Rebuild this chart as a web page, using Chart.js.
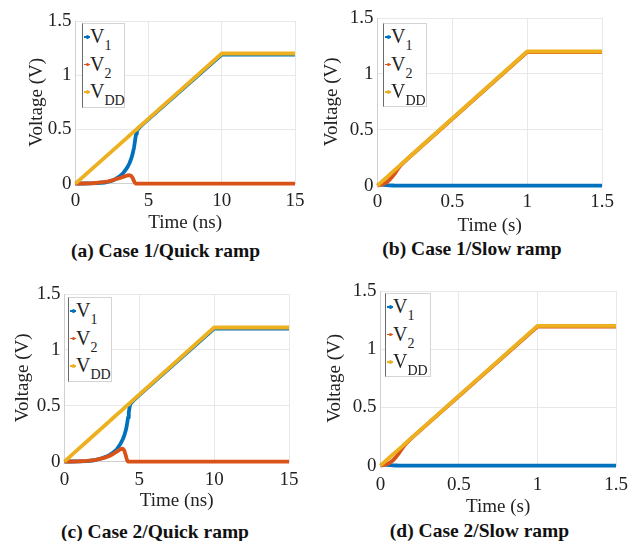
<!DOCTYPE html>
<html lang="en">
<head>
    <meta charset="UTF-8">
    <title>Voltage ramp cases</title>
    <style>
        body {
            margin: 0;
            background: #ffffff;
            font-family: "Liberation Serif", "Times New Roman", Times, "DejaVu Serif", serif;
        }
        .page {
            position: relative;
            width: 637px;
            height: 541px;
            overflow: hidden;
        }
        .page canvas {
            position: absolute;
        }
        .caption {
            position: absolute;
            width: 300px;
            margin-left: -150px;
            text-align: center;
            font-weight: bold;
            font-size: 19.5px;
            line-height: 20px;
            color: #111;
            white-space: nowrap;
        }
        .legend {
            position: absolute;
            background: #fff;
            border: 1px solid #d4d4d4;
            border-left: 1px solid #6a6a6a;
            box-sizing: border-box;
        }
        .legend .row {
            position: absolute;
            left: 7px;
            font-size: 20px;
            line-height: 20px;
            color: #222;
            white-space: nowrap;
        }
        .legend .row sub {
            font-size: 14px;
            vertical-align: -7px;
            line-height: 0;
        }
        .legend .mk {
            position: absolute;
            left: -6px;
            top: 10px;
            width: 6px;
            height: 1.5px;
        }
        .legend .mk::after {
            content: '';
            position: absolute;
            left: 1.5px;
            top: -1px;
            width: 3.5px;
            height: 3.5px;
            border-radius: 50%;
            background: inherit;
        }
    </style>
</head>
<body>
    <div class="page" id="page"></div>

    <script src="https://cdn.jsdelivr.net/npm/chart.js"></script>
    <script>
        // series names (subscripts) and MATLAB default colours
        const seriesSubs = ['1', '2', 'DD'];
        const seriesColors = ['#0072BD', '#D95319', '#EDB120'];
        const yTicks = [0, 0.5, 1, 1.5];

        // (a) Case 1 / Quick ramp, time in ns
        const timeA = [0, 0.5, 1, 1.5, 2, 2.25, 2.5, 2.75, 3, 3.25, 3.5, 3.6, 3.7, 3.8, 3.9, 4.0, 4.05, 4.1, 4.15, 4.2, 4.3, 4.5, 5, 10, 15];
        const v1A = [0, 0.001, 0.002, 0.005, 0.01, 0.017, 0.027, 0.043, 0.065, 0.095, 0.14, 0.162, 0.19, 0.225, 0.27, 0.33, 0.375, 0.42, 0.46, 0.485, 0.508, 0.535, 0.595, 1.19, 1.19];
        const v2A = [0, 0.001, 0.003, 0.008, 0.015, 0.021, 0.03, 0.04, 0.05, 0.062, 0.073, 0.076, 0.077, 0.072, 0.055, 0.025, 0.01, 0.002, 0, 0, 0, 0, 0, 0, 0];
        const vddA = [0, 0.06, 0.12, 0.18, 0.24, 0.27, 0.3, 0.33, 0.36, 0.39, 0.42, 0.432, 0.444, 0.456, 0.468, 0.48, 0.486, 0.492, 0.498, 0.504, 0.516, 0.54, 0.6, 1.2, 1.2];

        // (b) Case 1 / Slow ramp, time in s
        const timeB = [0, 0.01, 0.02, 0.03, 0.04, 0.06, 0.08, 0.1, 0.12, 0.14, 0.16, 0.2, 1, 1.5];
        const v1B = [0, 0.008, 0.01, 0.009, 0.007, 0.004, 0.002, 0.001, 0, 0, 0, 0, 0, 0];
        const v2B = [0, 0.003, 0.006, 0.01, 0.015, 0.028, 0.05, 0.08, 0.115, 0.155, 0.188, 0.238, 1.195, 1.195];
        const vddB = [0, 0.012, 0.024, 0.036, 0.048, 0.072, 0.096, 0.12, 0.144, 0.168, 0.192, 0.24, 1.2, 1.2];

        // (c) Case 2 / Quick ramp, time in ns
        const timeC = [0, 0.5, 1, 1.5, 2, 2.5, 2.75, 3, 3.25, 3.5, 3.75, 3.9, 4.0, 4.1, 4.15, 4.2, 4.25, 4.3, 4.35, 4.4, 4.6, 5, 10, 15];
        const v1C = [0, 0.001, 0.002, 0.005, 0.012, 0.03, 0.042, 0.058, 0.08, 0.11, 0.16, 0.2, 0.235, 0.28, 0.31, 0.35, 0.395, 0.44, 0.485, 0.515, 0.545, 0.595, 1.19, 1.19];
        const v2C = [0, 0.001, 0.003, 0.007, 0.014, 0.028, 0.038, 0.05, 0.068, 0.09, 0.112, 0.115, 0.1, 0.055, 0.03, 0.008, 0, 0, 0, 0, 0, 0, 0, 0];
        const vddC = [0, 0.06, 0.12, 0.18, 0.24, 0.3, 0.33, 0.36, 0.39, 0.42, 0.45, 0.468, 0.48, 0.492, 0.498, 0.504, 0.51, 0.516, 0.522, 0.528, 0.552, 0.6, 1.2, 1.2];

        // (d) Case 2 / Slow ramp, time in s
        const timeD = [0, 0.01, 0.02, 0.03, 0.04, 0.06, 0.08, 0.1, 0.12, 0.14, 0.16, 0.2, 1, 1.5];
        const v1D = [0, 0.008, 0.01, 0.009, 0.007, 0.004, 0.002, 0.001, 0, 0, 0, 0, 0, 0];
        const v2D = [0, 0.002, 0.005, 0.008, 0.012, 0.025, 0.045, 0.075, 0.11, 0.15, 0.185, 0.238, 1.195, 1.195];
        const vddD = [0, 0.012, 0.024, 0.036, 0.048, 0.072, 0.096, 0.12, 0.144, 0.168, 0.192, 0.24, 1.2, 1.2];

        const page = document.getElementById('page');
        const padTop = 14, padRight = 20;
        const font = { family: '"Liberation Serif", "Times New Roman", Times, "DejaVu Serif", serif', size: 19 };
        const plain = (v) => String(Math.round(v * 10) / 10);

        function pts(t, v) {
            return t.map((x, i) => ({ x: x, y: v[i] }));
        }

        // area = plot box in page pixels, yw/xh = space for ticks + titles
        function makePanel(p) {
            const canvas = document.createElement('canvas');
            const w = p.yw + p.area.w + padRight;
            const h = padTop + p.area.h + p.xh;
            canvas.width = w;
            canvas.height = h;
            canvas.style.left = (p.area.x - p.yw) + 'px';
            canvas.style.top = (p.area.y - padTop) + 'px';
            page.appendChild(canvas);

            const series = [p.v1, p.v2, p.vdd];
            new Chart(canvas.getContext('2d'), {
                type: 'line',
                data: {
                    datasets: series.map((s, i) => ({
                        label: 'V' + seriesSubs[i],
                        data: pts(p.time, s),
                        borderColor: seriesColors[i],
                        backgroundColor: seriesColors[i],
                        borderWidth: 3.8,
                        pointRadius: 0,
                        tension: 0,
                        borderJoinStyle: 'round',
                        clip: 6,
                        order: 3 - i
                    }))
                },
                options: {
                    responsive: false,
                    animation: false,
                    layout: { padding: { top: padTop, right: padRight, left: 0, bottom: 0 } },
                    plugins: { legend: { display: false }, tooltip: { enabled: false } },
                    scales: {
                        x: {
                            type: 'linear',
                            min: 0,
                            max: p.xMax,
                            ticks: { stepSize: p.xMax / 3, color: '#222', font: font, padding: p.xPad, maxRotation: 0, callback: plain },
                            grid: { color: '#e8e8e8', drawTicks: false },
                            border: { color: '#d0d0d0' },
                            title: { display: true, text: p.xTitle, color: '#222', font: font, padding: 0 },
                            afterFit: (axis) => {
                                axis.height = p.xh;
                                axis.paddingLeft = 0;
                                axis.paddingRight = 0;
                            }
                        },
                        y: {
                            min: 0,
                            max: 1.5,
                            afterBuildTicks: (axis) => { axis.ticks = yTicks.map(v => ({ value: v })); },
                            ticks: { color: '#222', font: font, padding: 4, callback: plain },
                            grid: { color: '#e8e8e8', drawTicks: false },
                            border: { color: '#d0d0d0' },
                            title: { display: true, text: 'Voltage (V)', color: '#222', font: font, padding: 0 },
                            afterFit: (axis) => {
                                axis.width = p.yw;
                                axis.paddingTop = 0;
                                axis.paddingBottom = 0;
                            }
                        }
                    }
                }
            });

            // legend box with subscripts
            const lg = document.createElement('div');
            lg.className = 'legend';
            lg.style.left = p.legend.x + 'px';
            lg.style.top = p.legend.y + 'px';
            lg.style.width = p.legend.w + 'px';
            lg.style.height = p.legend.h + 'px';
            const rowTops = [2, 29.5, 57];
            seriesSubs.forEach((sub, i) => {
                const row = document.createElement('div');
                row.className = 'row';
                row.style.top = rowTops[i] + 'px';
                row.innerHTML = '<span class="mk" style="background:' + seriesColors[i] + '"></span>V<sub>' + sub + '</sub>';
                lg.appendChild(row);
            });
            page.appendChild(lg);

            const cap = document.createElement('div');
            cap.className = 'caption';
            cap.style.left = p.cap.x + 'px';
            cap.style.top = (p.cap.y - 10) + 'px';
            cap.textContent = p.caption;
            page.appendChild(cap);
        }

        makePanel({
            time: timeA, v1: v1A, v2: v2A, vdd: vddA, xMax: 15, xTitle: 'Time (ns)',
            area: { x: 75, y: 21, w: 220, h: 163 }, yw: 49.4, xh: 50.4, xPad: 6,
            legend: { x: 82, y: 23, w: 43, h: 85 },
            cap: { x: 165.5, y: 251 }, caption: '(a) Case 1/Quick ramp'
        });
        makePanel({
            time: timeB, v1: v1B, v2: v2B, vdd: vddB, xMax: 1.5, xTitle: 'Time (s)',
            area: { x: 377, y: 18, w: 225, h: 168 }, yw: 56.4, xh: 51.4, xPad: 5,
            legend: { x: 383, y: 23, w: 44, h: 84 },
            cap: { x: 472, y: 249 }, caption: '(b) Case 1/Slow ramp'
        });
        makePanel({
            time: timeC, v1: v1C, v2: v2C, vdd: vddC, xMax: 15, xTitle: 'Time (ns)',
            area: { x: 64, y: 294, w: 225, h: 168 }, yw: 52.4, xh: 50.4, xPad: 7,
            legend: { x: 68, y: 297, w: 44, h: 85 },
            cap: { x: 155, y: 532 }, caption: '(c) Case 2/Quick ramp'
        });
        makePanel({
            time: timeD, v1: v1D, v2: v2D, vdd: vddD, xMax: 1.5, xTitle: 'Time (s)',
            area: { x: 380, y: 291, w: 236, h: 175 }, yw: 56.4, xh: 52.4, xPad: 8,
            legend: { x: 385, y: 293, w: 46, h: 84 },
            cap: { x: 479.5, y: 531 }, caption: '(d) Case 2/Slow ramp'
        });
    </script>
</body>
</html>
